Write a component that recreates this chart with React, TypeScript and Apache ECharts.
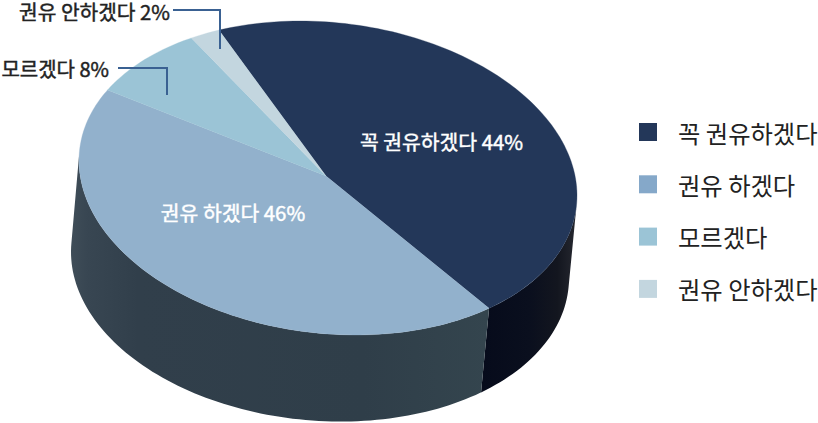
import React, { useEffect, useRef } from "react";
import * as echarts from "echarts";

const names = ["꼭 권유하겠다", "권유 하겠다", "모르겠다", "권유 안하겠다"];
const values = [44, 46, 8, 2];
const topColors = ["#233759", "#92b1cc", "#9bc4d6", "#c3d6df"];
const legendColors = ["#233759", "#85a8c9", "#9bc4d6", "#c3d6df"];

const FONT = '"Noto Sans CJK KR", sans-serif';
const CX = 328, CY = 178, RX = 249, RY = 156, SHEAR = 17.5, BOTTOM_SHEAR = 13;
const APEX = [326, 176];
const DX = -8, DY = 87;
const START = -116;
const WARP_A = 6.05, WARP_B = 3.69;
const TAN_A = 3.3, TAN_B = 183.3;

const total = values.reduce((a, b) => a + b, 0);
const cumulative = values.reduce<number[]>((acc, v) => [...acc, acc[acc.length - 1] + v], [0]);
const toParam = (c: number) => {
  const t = (c / total) * 360;
  const r = (t * Math.PI) / 180;
  return START + t + WARP_A * Math.sin(r / 2) + WARP_B * Math.sin(r);
};
const pt = (deg: number, bottom = false) => {
  const r = (deg * Math.PI) / 180;
  return bottom
    ? [CX + DX + RX * Math.cos(r), CY + DY + BOTTOM_SHEAR * Math.cos(r) + RY * Math.sin(r)]
    : [CX + RX * Math.cos(r), CY + SHEAR * Math.cos(r) + RY * Math.sin(r)];
};
const arcTo = (deg0: number, deg1: number, bottom = false) => {
  const step = deg1 >= deg0 ? 1.5 : -1.5;
  const n = Math.ceil((deg1 - deg0) / step);
  let d = "";
  for (let i = 1; i <= n; i++) {
    const p = pt(i === n ? deg1 : deg0 + i * step, bottom);
    d += `L${p[0].toFixed(2)} ${p[1].toFixed(2)}`;
  }
  return d;
};
const gradient = (stops: [number, string][]) => ({
  type: "linear", x: 0, y: 0, x2: 1, y2: 0,
  colorStops: stops.map(([offset, color]) => ({ offset, color })),
});
const sideFills = [
  gradient([[0, "#060b1b"], [0.5, "#0a0f1e"], [0.8, "#13161f"], [1, "#262830"]]),
  gradient([[0, "#3f4d58"], [0.04, "#384652"], [0.16, "#313f4b"], [0.7, "#2f3e49"], [1, "#34454e"]]),
];

const labels = [
  { x: 441.5, y: 140.5, align: "center", fill: "#ffffff", size: 20.4 },
  { x: 233, y: 212, align: "center", fill: "#ffffff", size: 20.4 },
  { x: 109, y: 68, align: "right", fill: "#222222", size: 20 },
  { x: 170, y: 11, align: "right", fill: "#222222", size: 20.3 },
];
const leaders: (number[][] | null)[] = [
  null,
  null,
  [[118, 68], [167, 68], [167, 95]],
  [[173, 10], [220, 10], [220, 49]],
];

function renderSlice(i: number) {
  return () => {
    const a = toParam(cumulative[i]);
    const b = toParam(cumulative[i + 1]);
    const children: any[] = [];
    const s0 = Math.max(a, TAN_A), s1 = Math.min(b, TAN_B);
    if (s1 > s0 && sideFills[i]) {
      const p0 = pt(s0);
      const q = pt(s1, true);
      children.push({
        type: "path",
        shape: { pathData: `M${p0[0]} ${p0[1]}${arcTo(s0, s1)}L${q[0]} ${q[1]}${arcTo(s1, s0, true)}Z` },
        style: { fill: sideFills[i] },
      });
    }
    const p = pt(a);
    children.push({
      type: "path",
      shape: { pathData: `M${APEX[0]} ${APEX[1]}L${p[0]} ${p[1]}${arcTo(a, b)}Z` },
      style: { fill: topColors[i], stroke: topColors[i], lineWidth: 0.3 },
    });
    const leader = leaders[i];
    if (leader) {
      children.push({
        type: "polyline",
        z2: 10,
        shape: { points: leader },
        style: { fill: "none", stroke: "#3a6192", lineWidth: 2 },
      });
    }
    const l = labels[i];
    children.push({
      type: "text",
      z2: 11,
      style: {
        text: `${names[i]} ${values[i]}%`,
        x: l.x,
        y: l.y,
        align: l.align,
        verticalAlign: "middle",
        fill: l.fill,
        stroke: l.fill,
        lineWidth: 0.45,
        font: `400 ${l.size}px ${FONT}`,
      },
    });
    return { type: "group", children };
  };
}

export default function App() {
  const ref = useRef<HTMLDivElement>(null);
  useEffect(() => {
    const chart = echarts.init(ref.current!, undefined, { renderer: "svg" });
    chart.setOption({
      animation: false,
      backgroundColor: "#ffffff",
      legend: {
        data: names,
        orient: "vertical",
        left: 639,
        top: 117,
        itemWidth: 18,
        itemHeight: 18,
        itemGap: 22.3,
        icon: "rect",
        selectedMode: false,
        padding: 0,
        textStyle: { color: "#222222", fontFamily: FONT, fontSize: 24.3, lineHeight: 30, padding: [0, 0, 0, 16] },
      },
      series: names.map((name, i) => ({
        type: "custom",
        name,
        coordinateSystem: "none",
        itemStyle: { color: legendColors[i] },
        data: [[values[i]]],
        clip: false,
        silent: true,
        renderItem: renderSlice(i),
      })),
    });
    return () => chart.dispose();
  }, []);
  return <div ref={ref} style={{ position: "absolute", left: 0, top: 0, width: 818, height: 423 }} />;
}
